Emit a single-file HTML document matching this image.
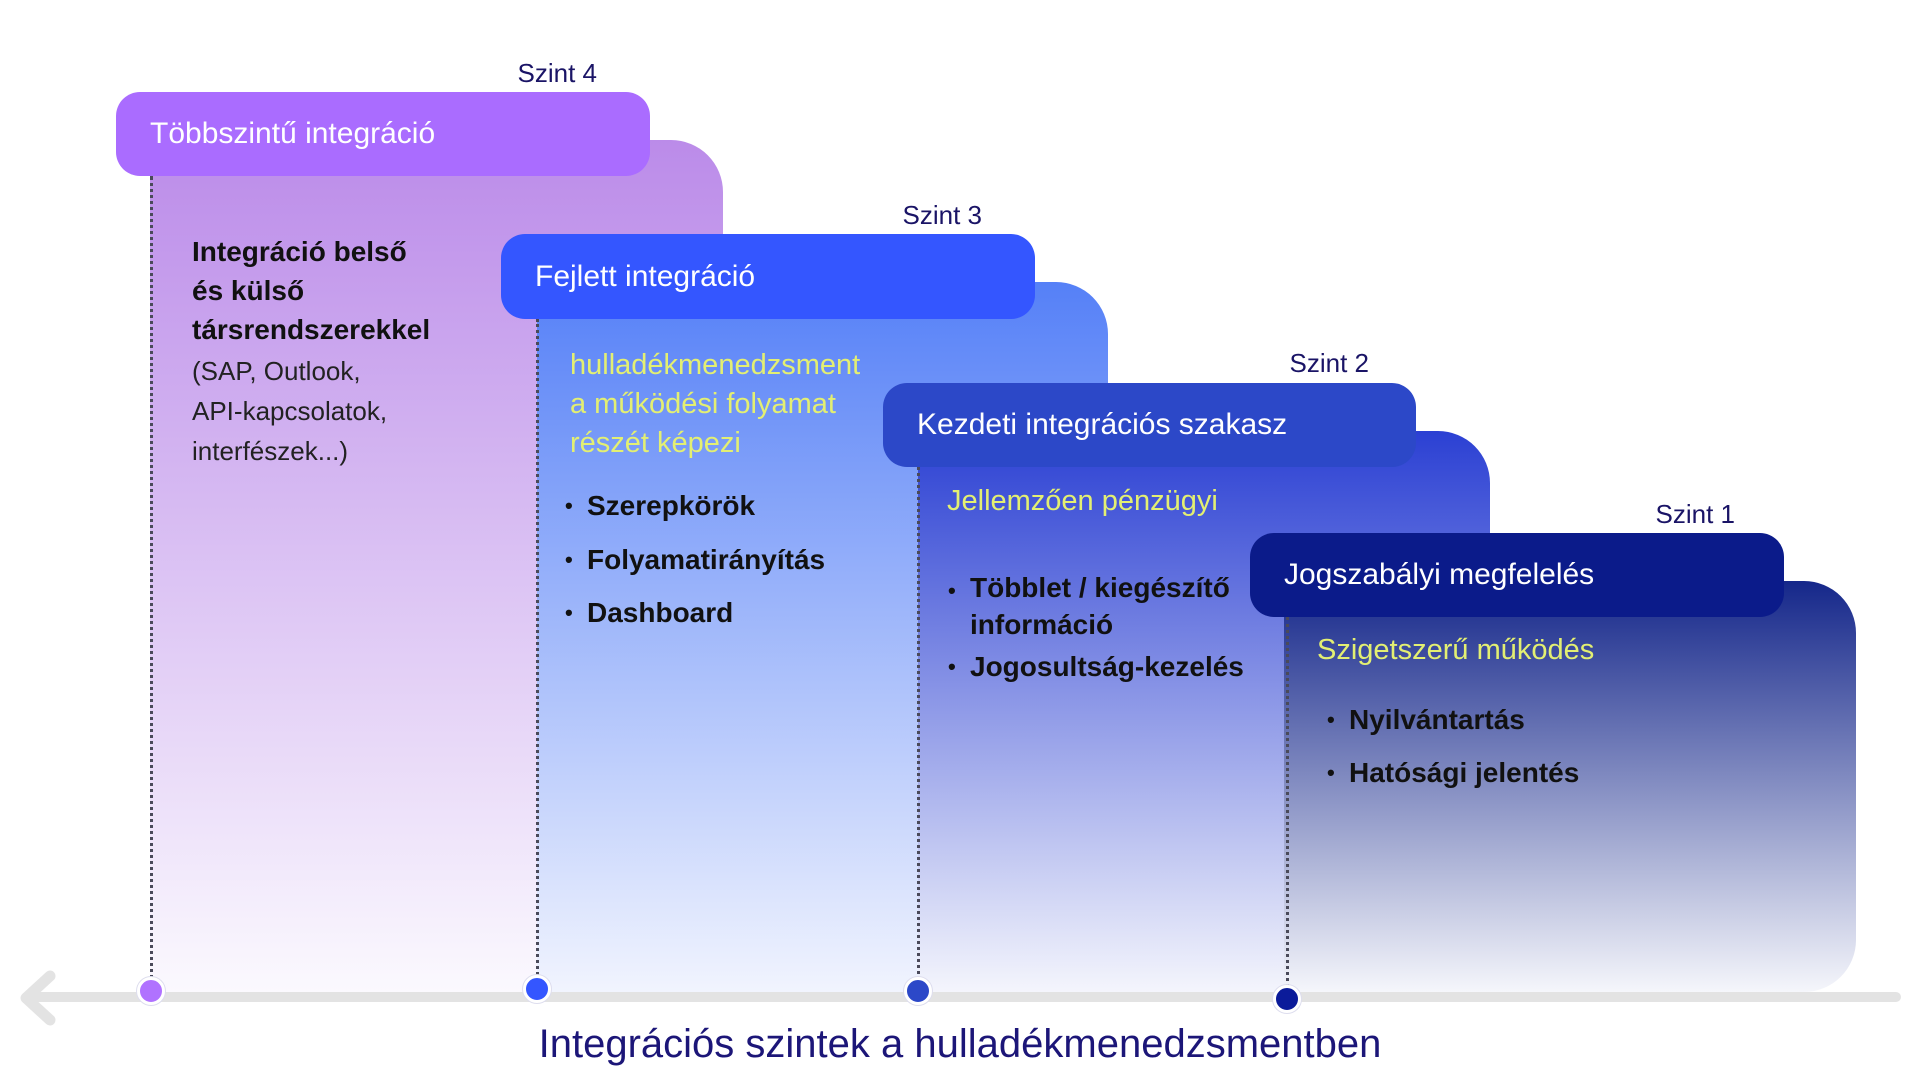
<!DOCTYPE html>
<html><head><meta charset="utf-8"><style>
body{margin:0;width:1920px;height:1080px;background:#fff;position:relative;overflow:hidden;font-family:"Liberation Sans",sans-serif}
.a{position:absolute}
.p{position:absolute;border-radius:0 52px 52px 0}
.h{position:absolute;border-radius:24px;color:#fff;font-size:30px;box-sizing:border-box;padding-left:34px;display:flex;align-items:center}
.sz{position:absolute;font-size:26px;color:#1a1466;text-align:right;width:200px}
.dl{position:absolute;border-left:3px dotted #4a4a5a;width:0}
.dot{position:absolute;width:22px;height:22px;border-radius:50%;border:3px solid #fff;box-shadow:0 0 0 1px #dde}
.t{position:absolute;white-space:nowrap}
.b{font-weight:bold;font-size:28px;color:#111}
.y{font-size:29px;color:#e3ef72}
.bl::before{content:"•";position:absolute;left:-22px;font-size:22px;top:3px}
</style></head><body>
<!-- axis -->
<div class="a" style="left:25px;top:992px;width:1876px;height:10px;background:#e3e3e3;border-radius:5px"></div>
<svg class="a" style="left:14px;top:970px" width="50" height="56"><polyline points="36,6 12,28 36,50" fill="none" stroke="#e3e3e3" stroke-width="11" stroke-linecap="round" stroke-linejoin="round"/></svg>

<!-- level 4 -->
<div class="p" style="left:150px;top:140px;width:573px;height:852px;background:linear-gradient(#bb8be9,#fbf9fe);border-radius:0 52px 0 0"></div>
<div class="dl" style="left:150px;top:176px;height:810px"></div>
<div class="h" style="left:116px;top:92px;width:534px;height:84px;background:#aa6cff">Többszintű integráció</div>
<div class="sz" style="left:397px;top:58px">Szint 4</div>
<div class="t b" style="left:192px;top:232px;line-height:39px">Integráció belső<br>és külső<br>társrendszerekkel</div>
<div class="t" style="left:192px;top:351px;font-size:26px;color:#222;line-height:40px">(SAP, Outlook,<br>API-kapcsolatok,<br>interfészek...)</div>

<!-- level 3 -->
<div class="p" style="left:537px;top:282px;width:571px;height:710px;background:linear-gradient(#5580f7,#f1f4fe);border-radius:0 52px 0 0"></div>
<div class="dl" style="left:536px;top:319px;height:667px"></div>
<div class="h" style="left:501px;top:234px;width:534px;height:85px;background:#3456ff">Fejlett integráció</div>
<div class="sz" style="left:782px;top:200px">Szint 3</div>
<div class="t y" style="left:570px;top:346px;line-height:39px">hulladékmenedzsment<br>a működési folyamat<br>részét képezi</div>
<div class="t b bl" style="left:587px;top:490px">Szerepkörök</div>
<div class="t b bl" style="left:587px;top:544px">Folyamatirányítás</div>
<div class="t b bl" style="left:587px;top:597px">Dashboard</div>

<!-- level 2 -->
<div class="p" style="left:918px;top:431px;width:572px;height:561px;background:linear-gradient(#2b40d3,#f4f5fc);border-radius:0 52px 0 0"></div>
<div class="dl" style="left:917px;top:467px;height:519px"></div>
<div class="h" style="left:883px;top:383px;width:533px;height:84px;background:#2c48c8">Kezdeti integrációs szakasz</div>
<div class="sz" style="left:1169px;top:348px">Szint 2</div>
<div class="t y" style="left:947px;top:485px">Jellemzően pénzügyi</div>
<div class="t b bl" style="left:970px;top:569px;line-height:37px">Többlet / kiegészítő<br>információ</div>
<div class="t b bl" style="left:970px;top:651px">Jogosultság-kezelés</div>

<!-- level 1 -->
<div class="p" style="left:1284px;top:581px;width:572px;height:411px;background:linear-gradient(#15278a,#f5f6fb);border-radius:0 52px 52px 0"></div>
<div class="dl" style="left:1286px;top:617px;height:376px"></div>
<div class="h" style="left:1250px;top:533px;width:534px;height:84px;background:#0b1b8a">Jogszabályi megfelelés</div>
<div class="sz" style="left:1535px;top:499px">Szint 1</div>
<div class="t y" style="left:1317px;top:634px">Szigetszerű működés</div>
<div class="t b bl" style="left:1349px;top:704px">Nyilvántartás</div>
<div class="t b bl" style="left:1349px;top:757px">Hatósági jelentés</div>

<!-- dots -->
<div class="dot" style="left:137px;top:977px;background:#b072ff"></div>
<div class="dot" style="left:523px;top:975px;background:#3456ff"></div>
<div class="dot" style="left:904px;top:977px;background:#2c48c8"></div>
<div class="dot" style="left:1273px;top:985px;background:#0b1b9a"></div>

<div class="t" style="left:0;width:1920px;text-align:center;top:1022px;font-size:40px;color:#1c1678">Integrációs szintek a hulladékmenedzsmentben</div>
</body></html>
